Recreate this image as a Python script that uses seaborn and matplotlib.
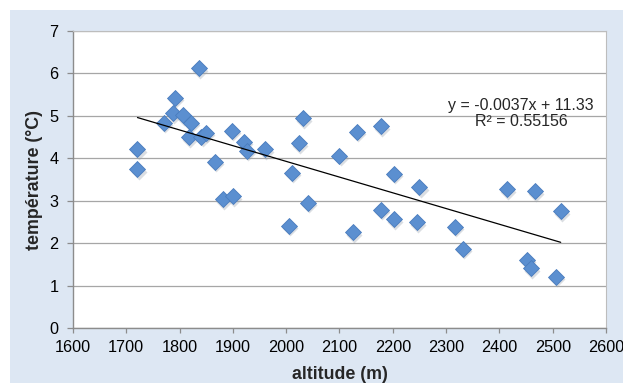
import matplotlib
matplotlib.use("Agg")
import matplotlib.pyplot as plt
from matplotlib.patches import Rectangle
import numpy as np
import pandas as pd
import seaborn as sns

# ---- data ----
altitude = [1721, 1721, 1771, 1787, 1792, 1807, 1822, 1817, 1837, 1841,
            1850, 1867, 1881, 1899, 1901, 1920, 1927, 1961, 2006, 2011,
            2024, 2032, 2040, 2100, 2132, 2178, 2125, 2202, 2177, 2203,
            2250, 2245, 2317, 2332, 2415, 2466, 2451, 2459, 2515, 2506]
temperature = [4.22, 3.74, 4.84, 5.06, 5.43, 5.02, 4.84, 4.50, 6.12, 4.51,
               4.61, 3.92, 3.04, 4.65, 3.11, 4.39, 4.18, 4.21, 2.41, 3.66,
               4.36, 4.94, 2.96, 4.06, 4.63, 4.76, 2.26, 3.64, 2.79, 2.57,
               3.32, 2.50, 2.39, 1.87, 3.28, 3.23, 1.61, 1.41, 2.76, 1.21]
slope = -0.0037
intercept = 11.33
equation_text = "y = -0.0037x + 11.33"
r2_text = "R² = 0.55156"
x_ticks = [1600, 1700, 1800, 1900, 2000, 2100, 2200, 2300, 2400, 2500, 2600]
y_ticks = [0, 1, 2, 3, 4, 5, 6, 7]
x_label = "altitude (m)"
y_label = "température (°C)"

df = pd.DataFrame({"altitude": altitude, "temperature": temperature})
xs = np.array([min(altitude), max(altitude)])
trend = pd.DataFrame({"x": xs, "y": slope * xs + intercept})

sns.set_theme(style="white")
plt.rcParams["font.family"] = ["Liberation Sans", "DejaVu Sans"]

fig = plt.figure(figsize=(6.23, 3.83), dpi=100)
fig.patch.set_facecolor("white")
fig.patches.append(Rectangle((10 / 623, 0), 1 - 10 / 623, 1 - 10 / 383,
                             transform=fig.transFigure, facecolor="#dde7f3",
                             edgecolor="none", zorder=-10))

ax = fig.add_axes([73 / 623, 1 - 328.3 / 383, (606 - 73) / 623, (328.3 - 31) / 383])
ax.set_zorder(1)
ax.set_facecolor("white")

# shadow
ax.scatter(np.array(altitude) + 2, np.array(temperature) - 0.06, marker="D",
           s=66, color="#9aa3ad", alpha=0.35, linewidths=0, zorder=2)
sns.scatterplot(data=df, x="altitude", y="temperature", marker="D", s=66,
                color="#5b8fd0", edgecolor="#4a7cbd", linewidth=0.6,
                ax=ax, zorder=3)
sns.lineplot(data=trend, x="x", y="y", color="black", linewidth=0.9, ax=ax, zorder=4)

ax.set_xlim(1600, 2600)
ax.set_ylim(0, 7)
ax.set_xticks(x_ticks)
ax.set_yticks(y_ticks)
ax.yaxis.grid(True, color="#a6a6a6", linewidth=0.9)
ax.set_axisbelow(True)
for side in ["left", "bottom"]:
    ax.spines[side].set_color("#8c8c8c")
    ax.spines[side].set_linewidth(1.0)
for side in ["right", "top"]:
    ax.spines[side].set_color("#bdbdbd")
    ax.spines[side].set_linewidth(0.8)
ax.tick_params(axis="both", direction="out", width=0.9,
               color="#8c8c8c", labelsize=11.7, labelcolor="black")
ax.tick_params(axis="x", bottom=True, length=3.6, pad=4.5)
ax.tick_params(axis="y", left=True, length=4.3, pad=6)

ax.set_xlabel(x_label, fontsize=12.8, fontweight="bold", labelpad=8.5)
ax.set_ylabel(y_label, fontsize=12.8, fontweight="bold", labelpad=5)

ax.text(2441, 5.25, equation_text, ha="center", va="center", fontsize=11.5, zorder=5)
ax.text(2441, 4.86, r2_text, ha="center", va="center", fontsize=11.5, zorder=5)

fig.savefig("out.png", dpi=100)
